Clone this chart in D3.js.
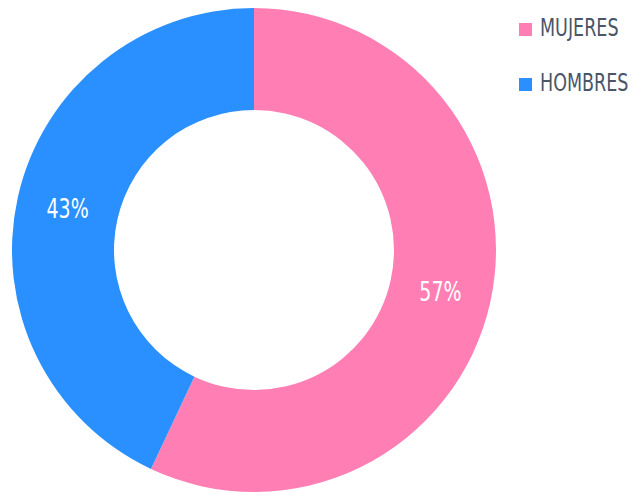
<!DOCTYPE html>
<html>
<head>
<meta charset="utf-8">
<script src="https://cdn.jsdelivr.net/npm/d3@7"></script>
<style>
  body { margin: 0; background: #fff; }
  text { font-family: "DejaVu Sans", sans-serif; }
</style>
</head>
<body>
<script>
// data
var categories = ["MUJERES", "HOMBRES"];
var values = [57, 43];
var colors = ["#ff7fb4", "#2a90ff"];

var width = 640,
    height = 492,
    cx = 254,
    cy = 250,
    outerR = 242,
    innerR = 140,
    narrow = 0.73; // text in the reference is a condensed face

var svg = d3.select("body").append("svg")
    .attr("width", width)
    .attr("height", height);

var pie = d3.pie().sort(null).value(function (d) { return d; });
var arc = d3.arc().innerRadius(innerR).outerRadius(outerR);

var g = svg.append("g").attr("transform", "translate(" + cx + "," + cy + ")");
var arcs = pie(values);

g.selectAll("path")
    .data(arcs)
    .enter().append("path")
    .attr("d", arc)
    .attr("fill", function (d, i) { return colors[i]; });

g.selectAll("text.lbl")
    .data(arcs)
    .enter().append("text")
    .attr("class", "lbl")
    .attr("transform", function (d) {
        return "translate(" + arc.centroid(d) + ") scale(" + narrow + ",1)";
    })
    .attr("text-anchor", "middle")
    .attr("dy", "0.36em")
    .attr("fill", "#fff")
    .style("font-size", "26px")
    .text(function (d) { return d.data + "%"; });

// legend
var legend = svg.append("g").attr("transform", "translate(519,23)");
var item = legend.selectAll("g")
    .data(categories)
    .enter().append("g")
    .attr("transform", function (d, i) { return "translate(0," + i * 55 + ")"; });

item.append("rect")
    .attr("width", 13).attr("height", 13)
    .attr("fill", function (d, i) { return colors[i]; });

// baseline sits on the bottom of the swatch
item.append("text")
    .attr("transform", "translate(21,13) scale(" + narrow + ",1)")
    .attr("fill", "#4a5568")
    .style("font-size", "24px")
    .text(function (d) { return d; });
</script>
</body>
</html>
